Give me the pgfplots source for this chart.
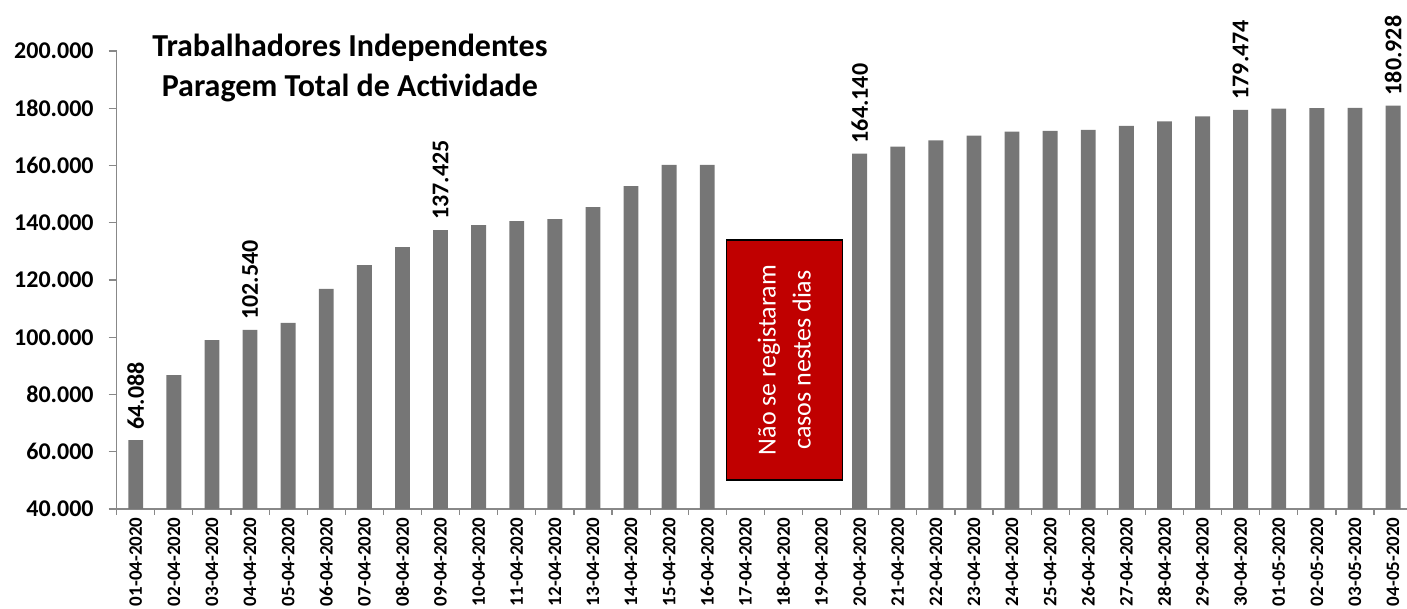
\documentclass[border=0pt]{standalone}
\usepackage{fontspec}
\setmainfont{Carlito}
\usepackage{pgfplots}
\pgfplotsset{compat=1.18}
\usetikzlibrary{calc}

\definecolor{bargray}{HTML}{767676}
\definecolor{axisgray}{HTML}{888888}
\definecolor{boxred}{HTML}{C00000}

\begin{document}
\begin{tikzpicture}
\begin{axis}[
    name=ax,
    scale only axis,
    width=645.15pt,
    height=229pt,
    xmin=-0.5, xmax=33.366,
    ymin=40000, ymax=200000,
    clip mode=individual,
    axis lines=left,
    axis line style={draw=axisgray, line width=0.6pt, -},
    tick align=outside,
    major tick length=4pt,
    scaled y ticks=false,
    ytick={40000,60000,...,200000},
    yticklabels={40.000,60.000,80.000,100.000,120.000,140.000,160.000,180.000,200.000},
    ytick style={draw=axisgray, line width=0.6pt},
    yticklabel style={font=\fontsize{12}{14}\selectfont\bfseries, xshift=-4pt},
    xtick={0,...,33},
    xticklabels={01-04-2020,02-04-2020,03-04-2020,04-04-2020,05-04-2020,06-04-2020,07-04-2020,08-04-2020,09-04-2020,10-04-2020,11-04-2020,12-04-2020,13-04-2020,14-04-2020,15-04-2020,16-04-2020,17-04-2020,18-04-2020,19-04-2020,20-04-2020,21-04-2020,22-04-2020,23-04-2020,24-04-2020,25-04-2020,26-04-2020,27-04-2020,28-04-2020,29-04-2020,30-04-2020,01-05-2020,02-05-2020,03-05-2020,04-05-2020},
    major x tick style={draw=none},
    minor xtick={-0.5,0.5,...,33.5},
    minor tick length=3pt,
    minor x tick style={draw=axisgray, line width=0.6pt},
    xticklabel style={rotate=90, anchor=east, inner sep=0pt, font=\fontsize{9.5}{11}\selectfont\bfseries},
    /pgf/number format/assume math mode=true,
]
% bars (17-04 to 19-04 have no data)
\addplot[ybar, bar width=0.39, bar shift=0pt, fill=bargray, draw=none] coordinates {
(0,64088) (1,86800) (2,99000) (3,102540) (4,105000) (5,116900) (6,125200) (7,131500)
(8,137425) (9,139200) (10,140600) (11,141300) (12,145500) (13,152800) (14,160200) (15,160200)
(19,164140) (20,166600) (21,168800) (22,170400) (23,171800) (24,172100) (25,172400)
(26,173800) (27,175400) (28,177200) (29,179474) (30,179900) (31,180000) (32,180100) (33,180928)
};
% value labels
\addplot[only marks, mark=none, point meta=explicit symbolic,
    nodes near coords,
    every node near coord/.append style={rotate=90, anchor=west, inner sep=5pt,
        font=\fontsize{12}{14}\selectfont\bfseries, text=black}]
coordinates {
(0,64088)[64.088] (3,102540)[102.540] (8,137425)[137.425]
(19,164140)[164.140] (29,179474)[179.474] (33,180928)[180.928]
};
\draw[fill=boxred, draw=black, line width=0.6pt] (axis cs:15.51,50131) rectangle (axis cs:18.54,133974);
\node[rotate=90, text=white, align=center, font=\fontsize{13}{17.5}\selectfont]
    at (axis cs:17.02,92050) {Não se registaram\\casos nestes dias};
\node[align=center, font=\fontsize{16}{20}\selectfont\bfseries]
    at (axis cs:5.62,194000) {Trabalhadores Independentes\\Paragem Total de Actividade};
\end{axis}
\pgfresetboundingbox
\path[use as bounding box] ($(ax.south west)+(-58.35pt,-50pt)$) rectangle ($(ax.south west)+(645.15pt,254.5pt)$);
\end{tikzpicture}
\end{document}
